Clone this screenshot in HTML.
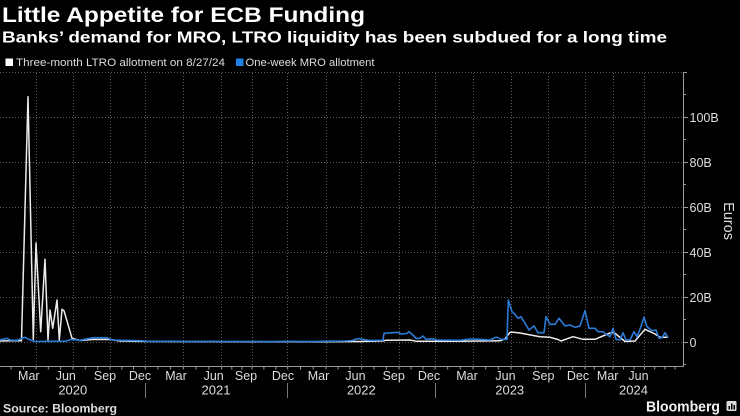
<!DOCTYPE html>
<html>
<head>
<meta charset="utf-8">
<style>
  html, body { margin: 0; padding: 0; background: #000; }
  body { width: 740px; height: 416px; overflow: hidden; }
  svg { display: block; }
  text { font-family: "Liberation Sans", Arial, sans-serif; }
</style>
</head>
<body>
<svg width="740" height="416" viewBox="0 0 740 416" xmlns="http://www.w3.org/2000/svg">
  <rect x="0" y="0" width="740" height="416" fill="#000"/>

  <!-- Title & subtitle -->
  <text x="2" y="22" font-size="21.5" font-weight="bold" fill="#fff" textLength="363" lengthAdjust="spacingAndGlyphs">Little Appetite for ECB Funding</text>
  <text x="2" y="42.5" font-size="16" font-weight="bold" fill="#fff" textLength="665" lengthAdjust="spacingAndGlyphs">Banks’ demand for MRO, LTRO liquidity has been subdued for a long time</text>

  <!-- Legend -->
  <rect x="5.5" y="58.5" width="7.5" height="7.5" fill="#fff"/>
  <text x="16" y="66" font-size="11" fill="#ddd" textLength="209" lengthAdjust="spacingAndGlyphs">Three-month LTRO allotment on 8/27/24</text>
  <rect x="236" y="58.5" width="7.5" height="7.5" fill="#1f80e6"/>
  <text x="245.5" y="66" font-size="11" fill="#ddd" textLength="129" lengthAdjust="spacingAndGlyphs">One-week MRO allotment</text>

  <!-- Horizontal gridlines -->
  <g stroke="#5a5a5a" stroke-width="1" stroke-dasharray="1 2" fill="none">
    <line x1="0" y1="72.5" x2="683" y2="72.5"/>
    <line x1="0" y1="117.5" x2="683" y2="117.5"/>
    <line x1="0" y1="162.5" x2="683" y2="162.5"/>
    <line x1="0" y1="207.5" x2="683" y2="207.5"/>
    <line x1="0" y1="252.5" x2="683" y2="252.5"/>
    <line x1="0" y1="297.5" x2="683" y2="297.5"/>
    <line x1="0" y1="342.5" x2="683" y2="342.5"/>
  </g>

  <!-- Vertical gridlines (quarters) -->
  <g stroke="#5a5a5a" stroke-width="1" stroke-dasharray="1 2" fill="none">
    <line x1="36.5" y1="73" x2="36.5" y2="366"/>
    <line x1="73.5" y1="73" x2="73.5" y2="366"/>
    <line x1="110.5" y1="73" x2="110.5" y2="366"/>
    <line x1="145.5" y1="73" x2="145.5" y2="366"/>
    <line x1="183.5" y1="73" x2="183.5" y2="366"/>
    <line x1="221.5" y1="73" x2="221.5" y2="366"/>
    <line x1="252.5" y1="73" x2="252.5" y2="366"/>
    <line x1="287.5" y1="73" x2="287.5" y2="366"/>
    <line x1="326.5" y1="73" x2="326.5" y2="366"/>
    <line x1="361.5" y1="73" x2="361.5" y2="366"/>
    <line x1="399.5" y1="73" x2="399.5" y2="366"/>
    <line x1="435.5" y1="73" x2="435.5" y2="366"/>
    <line x1="473.5" y1="73" x2="473.5" y2="366"/>
    <line x1="511.5" y1="73" x2="511.5" y2="366"/>
    <line x1="548.5" y1="73" x2="548.5" y2="366"/>
    <line x1="585.5" y1="73" x2="585.5" y2="366"/>
    <line x1="613.5" y1="73" x2="613.5" y2="366"/>
    <line x1="644.5" y1="73" x2="644.5" y2="366"/>
  </g>

  <!-- LTRO (white) series -->
  <polyline fill="none" stroke="#ececec" stroke-width="1.5" stroke-linejoin="round" points="
    0,341 10,340.8 21.5,340.7 28,96.7 33.3,339.5 36,243 40.7,331.7 45,259.3 48,340 50,310 52.7,328.3 57,300 59.3,340 62,309.3 64,310.7 72,338.3
    80,340.5 93,339.5 110,339.5 120,341 140,341.4 200,341.6 260,341.7 320,341.7 360,341.5 383,341 386,340.2 410,340 416,341.2 460,341.2 500,340.8
    505,339 510,332.3 513,332.2 520,333 540,336.7 550,337.3 558,339.5 561,341 573,336.7 583,339.3 595,339.3 610,333 614,332.5 625,341.5 635,341
    645,329.3 655,334 660,337.3 668,337.3"/>

  <!-- MRO (blue) series -->
  <polyline fill="none" stroke="#2b7bd6" stroke-width="1.6" stroke-linejoin="round" points="
    0,340 7,338.3 10,340 17,340.3 25,337.3 30,340 35,341.5 50,341.3 65,341.2 72,339.5 80,340.3 93,337.7 107,337.7 112,340 140,340.7
    150,341.5 170,341.2 190,341.6 210,341.3 230,341.5 250,341.4 270,341.6 290,341.3 310,341.5 330,341.2 345,341 352,340.5 358,338.6 364,339.5 370,340.5 383,340.3
    384,333.3 393,332.7 398,332.3 401,334 406.7,333.5 409,331.7 413,335 416,338.3 420,338.3 423,336 426,339.3 433,338.7 437,340 460,340.3 470,339
    480,339.3 490,340 495,337.5 497,337.3 501,339.3 504,339.3 507,339.5 508.3,300 512,311.7 515,314.3 518,318.3 521,316.7 525,323.3 529,330 534,326
    538,332.7 544,332.7 546,316.7 550,324.3 555,324.3 559,318.3 565,326 570,325 575,327.3 580,326 585,310.7 589,328.3 595,328.3 598,331.7 603,331.7
    606,334.3 610,336.7 613,328.3 616,339.3 620,340 623,332.7 626,340 630,340 634,331.7 637,336.7 640,329.3 644,317.3 647,326.7 652,330.7 656,330
    659,338.3 662,337.7 665,332.7 668,337.7"/>

  <!-- Y axis -->
  <g stroke="#9a9a9a" stroke-width="1" fill="none">
    <line x1="683.5" y1="72.5" x2="683.5" y2="366"/>
    <line x1="683" y1="72.5" x2="687" y2="72.5"/>
    <line x1="683" y1="94.5" x2="686" y2="94.5"/>
    <line x1="683" y1="117.5" x2="688" y2="117.5"/>
    <line x1="683" y1="139.5" x2="686" y2="139.5"/>
    <line x1="683" y1="162.5" x2="688" y2="162.5"/>
    <line x1="683" y1="184.5" x2="686" y2="184.5"/>
    <line x1="683" y1="207.5" x2="688" y2="207.5"/>
    <line x1="683" y1="229.5" x2="686" y2="229.5"/>
    <line x1="683" y1="252.5" x2="688" y2="252.5"/>
    <line x1="683" y1="274.5" x2="686" y2="274.5"/>
    <line x1="683" y1="297.5" x2="688" y2="297.5"/>
    <line x1="683" y1="319.5" x2="686" y2="319.5"/>
    <line x1="683" y1="342.5" x2="688" y2="342.5"/>
    <line x1="683" y1="364.5" x2="686" y2="364.5"/>
  </g>
  <g font-size="12.5" fill="#ddd">
    <text x="689.5" y="121.8">100B</text>
    <text x="689.5" y="166.8">80B</text>
    <text x="689.5" y="211.8">60B</text>
    <text x="689.5" y="256.8">40B</text>
    <text x="689.5" y="301.8">20B</text>
    <text x="689.5" y="346.8">0</text>
  </g>
  <text transform="translate(724,221) rotate(90)" text-anchor="middle" font-size="14.5" fill="#ddd">Euros</text>

  <!-- X axis -->
  <g stroke="#9a9a9a" stroke-width="1" fill="none">
    <line x1="0" y1="366.5" x2="684" y2="366.5"/>
    <line x1="11.1" y1="366" x2="11.1" y2="369.5"/>
    <line x1="23.5" y1="366" x2="23.5" y2="369.5"/>
    <line x1="36" y1="366" x2="36" y2="369.5"/>
    <line x1="48.3" y1="366" x2="48.3" y2="369.5"/>
    <line x1="60.7" y1="366" x2="60.7" y2="369.5"/>
    <line x1="73" y1="366" x2="73" y2="369.5"/>
    <line x1="85.3" y1="366" x2="85.3" y2="369.5"/>
    <line x1="97.7" y1="366" x2="97.7" y2="369.5"/>
    <line x1="110" y1="366" x2="110" y2="369.5"/>
    <line x1="121.8" y1="366" x2="121.8" y2="369.5"/>
    <line x1="133.5" y1="366" x2="133.5" y2="369.5"/>
    <line x1="145.3" y1="366" x2="145.3" y2="369.5"/>
    <line x1="158" y1="366" x2="158" y2="369.5"/>
    <line x1="170.6" y1="366" x2="170.6" y2="369.5"/>
    <line x1="183.3" y1="366" x2="183.3" y2="369.5"/>
    <line x1="196.1" y1="366" x2="196.1" y2="369.5"/>
    <line x1="208.9" y1="366" x2="208.9" y2="369.5"/>
    <line x1="221.7" y1="366" x2="221.7" y2="369.5"/>
    <line x1="231.8" y1="366" x2="231.8" y2="369.5"/>
    <line x1="241.9" y1="366" x2="241.9" y2="369.5"/>
    <line x1="252" y1="366" x2="252" y2="369.5"/>
    <line x1="263.9" y1="366" x2="263.9" y2="369.5"/>
    <line x1="275.8" y1="366" x2="275.8" y2="369.5"/>
    <line x1="287.7" y1="366" x2="287.7" y2="369.5"/>
    <line x1="300.5" y1="366" x2="300.5" y2="369.5"/>
    <line x1="313.2" y1="366" x2="313.2" y2="369.5"/>
    <line x1="326" y1="366" x2="326" y2="369.5"/>
    <line x1="337.9" y1="366" x2="337.9" y2="369.5"/>
    <line x1="349.8" y1="366" x2="349.8" y2="369.5"/>
    <line x1="361.7" y1="366" x2="361.7" y2="369.5"/>
    <line x1="374.1" y1="366" x2="374.1" y2="369.5"/>
    <line x1="386.4" y1="366" x2="386.4" y2="369.5"/>
    <line x1="399" y1="366" x2="399" y2="369.5"/>
    <line x1="411" y1="366" x2="411" y2="369.5"/>
    <line x1="423" y1="366" x2="423" y2="369.5"/>
    <line x1="435" y1="366" x2="435" y2="369.5"/>
    <line x1="447.7" y1="366" x2="447.7" y2="369.5"/>
    <line x1="460.3" y1="366" x2="460.3" y2="369.5"/>
    <line x1="473" y1="366" x2="473" y2="369.5"/>
    <line x1="485.7" y1="366" x2="485.7" y2="369.5"/>
    <line x1="498.3" y1="366" x2="498.3" y2="369.5"/>
    <line x1="511" y1="366" x2="511" y2="369.5"/>
    <line x1="523.3" y1="366" x2="523.3" y2="369.5"/>
    <line x1="535.7" y1="366" x2="535.7" y2="369.5"/>
    <line x1="548" y1="366" x2="548" y2="369.5"/>
    <line x1="560.3" y1="366" x2="560.3" y2="369.5"/>
    <line x1="572.7" y1="366" x2="572.7" y2="369.5"/>
    <line x1="585" y1="366" x2="585" y2="369.5"/>
    <line x1="594.3" y1="366" x2="594.3" y2="369.5"/>
    <line x1="603.7" y1="366" x2="603.7" y2="369.5"/>
    <line x1="613" y1="366" x2="613" y2="369.5"/>
    <line x1="623.5" y1="366" x2="623.5" y2="369.5"/>
    <line x1="634" y1="366" x2="634" y2="369.5"/>
    <line x1="644.5" y1="366" x2="644.5" y2="369.5"/>
    <line x1="654.7" y1="366" x2="654.7" y2="369.5"/>
    <line x1="665" y1="366" x2="665" y2="369.5"/>
    <line x1="675" y1="366" x2="675" y2="369.5"/>
  </g>
  <!-- Year separators -->
  <g stroke="#777" stroke-width="1">
    <line x1="145.5" y1="383" x2="145.5" y2="398"/>
    <line x1="287.5" y1="383" x2="287.5" y2="398"/>
    <line x1="435.5" y1="383" x2="435.5" y2="398"/>
    <line x1="585.5" y1="383" x2="585.5" y2="398"/>
  </g>
  <!-- Month labels -->
  <g font-size="12.5" fill="#ddd" text-anchor="middle">
    <text x="28.8" y="380">Mar</text>
    <text x="65.8" y="380">Jun</text>
    <text x="105" y="380">Sep</text>
    <text x="140" y="380">Dec</text>
    <text x="176" y="380">Mar</text>
    <text x="213.7" y="380">Jun</text>
    <text x="246" y="380">Sep</text>
    <text x="283" y="380">Dec</text>
    <text x="318.5" y="380">Mar</text>
    <text x="355.5" y="380">Jun</text>
    <text x="393.7" y="380">Sep</text>
    <text x="429" y="380">Dec</text>
    <text x="467" y="380">Mar</text>
    <text x="505.5" y="380">Jun</text>
    <text x="543.3" y="380">Sep</text>
    <text x="578" y="380">Dec</text>
    <text x="607.7" y="380">Mar</text>
    <text x="638.5" y="380">Jun</text>
  </g>
  <g font-size="13" fill="#ddd" text-anchor="middle">
    <text x="72.8" y="394.5">2020</text>
    <text x="216" y="394.5">2021</text>
    <text x="361.3" y="394.5">2022</text>
    <text x="509.7" y="394.5">2023</text>
    <text x="633.5" y="394.5">2024</text>
  </g>

  <!-- Footer -->
  <text x="3" y="412.5" font-size="12" font-weight="bold" fill="#ddd" textLength="114" lengthAdjust="spacingAndGlyphs">Source: Bloomberg</text>
  <text x="646" y="411.5" font-size="15" font-weight="bold" fill="#f2f2f2" textLength="74" lengthAdjust="spacingAndGlyphs">Bloomberg</text>
  <rect x="726.5" y="401" width="10" height="10" rx="1.5" fill="#ddd"/>
  <g fill="#000">
    <rect x="728.5" y="406" width="1.5" height="3.5"/>
    <rect x="731" y="403.5" width="1.5" height="6"/>
    <rect x="733.5" y="405" width="1.5" height="4.5"/>
  </g>
</svg>
</body>
</html>
